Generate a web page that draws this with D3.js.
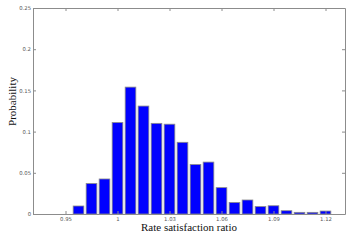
<!DOCTYPE html>
<html>
<head>
<meta charset="utf-8">
<script src="https://d3js.org/d3.v7.min.js"></script>
<style>
	body { margin: 0; background: #fff; }
	.axis path, .axis line { stroke: #8c8c8c; stroke-width: 1; }
	.axis text { fill: #555; font: 5.3px "DejaVu Sans", sans-serif; }
	.lbl { font-family: "Liberation Serif", "Times New Roman", serif; font-size: 11px; fill: #111; }
</style>
</head>
<body>
<div id="container"></div>
<script>
// histogram bins (index 0..20), probability per bin
var bins = d3.range(21);
var probs = [0, 0.0097, 0.037, 0.0425, 0.111, 0.154, 0.131, 0.110, 0.109, 0.087, 0.060,
             0.063, 0.032, 0.014, 0.017, 0.009, 0.010, 0.004, 0.002, 0.002, 0.0036];
var tickBins = [0, 4, 8, 12, 16, 20];
var tickLabels = ["0.95", "1", "1.03", "1.06", "1.09", "1.12"];
var yTicks = [0, 0.05, 0.1, 0.15, 0.2, 0.25];
var yLabels = ["0", "0.05", "0.1", "0.15", "0.2", "0.25"];

var W = 360, H = 247;
var mLeft = 33, mRight = 345, mTop = 8, mBottom = 214;

var svg = d3.select("#container").append("svg")
	.attr("width", W).attr("height", H);

var x = d3.scaleLinear().domain([-2.5, 21.5]).range([mLeft, mRight]);
var y = d3.scaleLinear().domain([0, 0.25]).range([mBottom, mTop]);
var bw = (x(1) - x(0)) * 0.82;

svg.selectAll("rect.bar")
	.data(bins)
	.enter().append("rect")
	.attr("class", "bar")
	.attr("x", function(d){ return x(d) - bw/2; })
	.attr("width", bw)
	.attr("y", function(d){ return y(probs[d]); })
	.attr("height", function(d){ return mBottom - y(probs[d]); })
	.attr("fill", "#0000ff")
	.attr("stroke", "#8a8a8a")
	.attr("stroke-width", 0.8)
	.style("display", function(d){ return probs[d] > 0 ? null : "none"; });

// axes, ticks pointing inward
svg.append("g").attr("class", "axis")
	.attr("transform", "translate(0," + mBottom + ")")
	.call(d3.axisBottom(x).tickValues(tickBins)
		.tickFormat(function(d, i){ return tickLabels[i]; })
		.tickSizeInner(-3).tickSizeOuter(0).tickPadding(3));

svg.append("g").attr("class", "axis")
	.attr("transform", "translate(0," + mTop + ")")
	.call(d3.axisTop(x).tickValues(tickBins).tickFormat("")
		.tickSizeInner(-3).tickSizeOuter(0));

svg.append("g").attr("class", "axis")
	.attr("transform", "translate(" + mLeft + ",0)")
	.call(d3.axisLeft(y).tickValues(yTicks)
		.tickFormat(function(d, i){ return yLabels[i]; })
		.tickSizeInner(-3).tickSizeOuter(0).tickPadding(2));

svg.append("g").attr("class", "axis")
	.attr("transform", "translate(" + mRight + ",0)")
	.call(d3.axisRight(y).tickValues(yTicks).tickFormat("")
		.tickSizeInner(-3).tickSizeOuter(0));

svg.append("text").attr("class", "lbl")
	.attr("x", (mLeft + mRight) / 2).attr("y", 231)
	.attr("text-anchor", "middle")
	.text("Rate satisfaction ratio");

svg.append("text").attr("class", "lbl")
	.attr("transform", "translate(16," + ((72 + 131) / 2) + ") rotate(-90)")
	.attr("text-anchor", "middle")
	.text("Probability");
</script>
</body>
</html>
